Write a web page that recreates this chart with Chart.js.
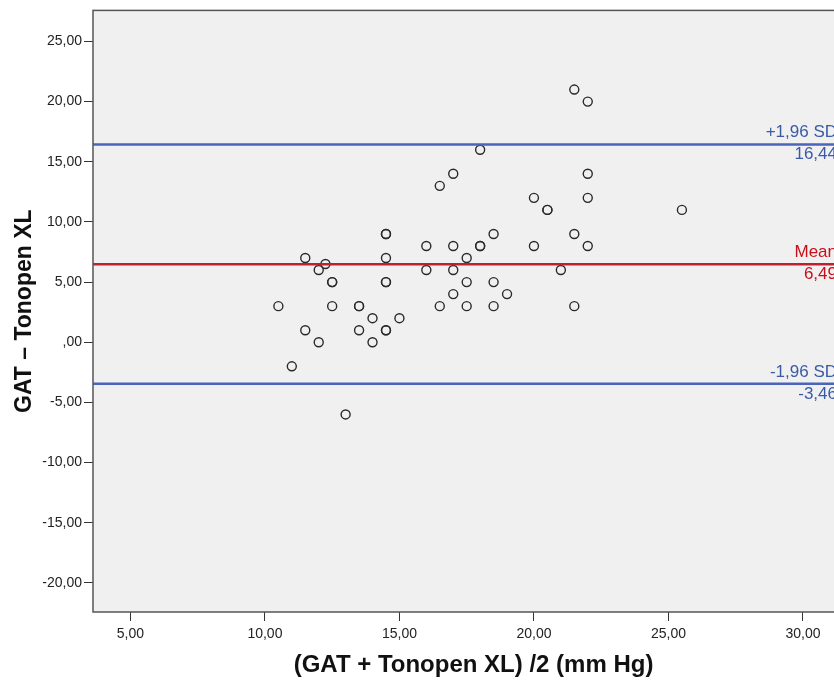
<!DOCTYPE html>
<html lang="en">
<head>
    <meta charset="UTF-8">
    <title>Bland-Altman GAT vs Tonopen XL</title>
    <script src="https://cdn.jsdelivr.net/npm/chart.js@4.4.1/dist/chart.umd.min.js"></script>
    <style>
        html, body {
            margin: 0;
            padding: 0;
            background: #fff;
            overflow: hidden;
            width: 834px;
            height: 684px;
        }
        canvas { display: block; }
    </style>
</head>
<body>
    <canvas id="myChart" width="860" height="684"></canvas>
    <script>
        // mean of the two methods (x) and difference GAT - Tonopen (y)
        const meanValues = [21.5, 22, 18, 16.5, 17, 22, 20, 22, 20.5, 20.5, 25.5, 14.5, 14.5, 18.5, 21.5,
            16, 17, 18, 18, 20, 22, 11.5, 14.5, 17.5, 12.25, 12, 16, 17, 21, 12.5, 12.5, 14.5, 14.5,
            17.5, 18.5, 17, 19, 10.5, 12.5, 13.5, 13.5, 16.5, 17.5, 18.5, 21.5, 14, 15, 11.5, 13.5,
            14.5, 14.5, 12, 14, 11, 13];
        const diffValues = [21, 20, 16, 13, 14, 14, 12, 12, 11, 11, 11, 9, 9, 9, 9,
            8, 8, 8, 8, 8, 8, 7, 7, 7, 6.5, 6, 6, 6, 6, 5, 5, 5, 5,
            5, 5, 4, 4, 3, 3, 3, 3, 3, 3, 3, 3, 2, 2, 1, 1,
            1, 1, 0, 0, -2, -6];

        const meanDiff = 6.49;
        const upperLoA = 16.44;
        const lowerLoA = -3.46;

        const xTicks = [5, 10, 15, 20, 25, 30];
        const yTicks = [-20, -15, -10, -5, 0, 5, 10, 15, 20, 25];
        const xRange = [3.61, 31.9];
        const yRange = [-22.42, 27.58];

        function fmt(v) {
            var s = v.toFixed(2).replace('.', ',');
            if (s === '0,00') s = ',00';
            return s;
        }

        const points = meanValues.map(function (x, i) { return { x: x, y: diffValues[i] }; });

        function hLine(y) {
            return [{ x: xRange[0], y: y }, { x: xRange[1], y: y }];
        }

        const blue = '#4a64b9';
        const red = '#bf2030';

        // plot background, frame and the labels of the reference lines
        const plotDeco = {
            id: 'plotDeco',
            beforeDraw(chart) {
                const { ctx, chartArea: a } = chart;
                ctx.save();
                ctx.fillStyle = '#f0f0f0';
                ctx.fillRect(a.left, a.top, a.right - a.left, a.bottom - a.top);
                ctx.restore();
            },
            afterDatasetsDraw(chart) {
                const { ctx, chartArea: a, scales } = chart;
                ctx.save();
                ctx.strokeStyle = '#555';
                ctx.lineWidth = 1.5;
                ctx.strokeRect(a.left, a.top, a.right - a.left, a.bottom - a.top);

                const labels = [
                    { v: upperLoA, top: '+1,96 SD', color: '#3a5aa6' },
                    { v: meanDiff, top: 'Mean', color: '#c8101c' },
                    { v: lowerLoA, top: '-1,96 SD', color: '#3a5aa6' }
                ];
                ctx.font = '17px "Liberation Sans", Arial, sans-serif';
                ctx.textAlign = 'right';
                ctx.textBaseline = 'alphabetic';
                labels.forEach(function (l) {
                    const y = scales.y.getPixelForValue(l.v);
                    ctx.fillStyle = l.color;
                    ctx.fillText(l.top, 837, y - 7);
                    ctx.fillText(fmt(l.v), 837, y + 15);
                });
                ctx.restore();
            }
        };

        const ctx = document.getElementById('myChart').getContext('2d');

        const myChart = new Chart(ctx, {
            type: 'scatter',
            data: {
                datasets: [
                    {
                        type: 'line',
                        data: hLine(upperLoA),
                        borderColor: blue,
                        borderWidth: 2.5,
                        pointRadius: 0
                    },
                    {
                        type: 'line',
                        data: hLine(meanDiff),
                        borderColor: red,
                        borderWidth: 2.5,
                        pointRadius: 0
                    },
                    {
                        type: 'line',
                        data: hLine(lowerLoA),
                        borderColor: blue,
                        borderWidth: 2.5,
                        pointRadius: 0
                    },
                    {
                        data: points,
                        pointRadius: 4.5,
                        pointBorderWidth: 1.4,
                        borderColor: '#2a2a2a',
                        backgroundColor: 'rgba(0,0,0,0)'
                    }
                ]
            },
            options: {
                responsive: false,
                animation: false,
                devicePixelRatio: 1,
                layout: {
                    padding: { top: 10, right: 4, left: 0, bottom: 0 }
                },
                plugins: {
                    legend: { display: false },
                    tooltip: { enabled: false }
                },
                scales: {
                    x: {
                        type: 'linear',
                        min: xRange[0],
                        max: xRange[1],
                        afterBuildTicks: function (scale) {
                            scale.ticks = xTicks.map(function (v) { return { value: v }; });
                        },
                        afterFit: function (scale) { scale.height = 72; },
                        border: { display: false },
                        grid: {
                            drawOnChartArea: false,
                            drawTicks: true,
                            tickLength: 9,
                            color: '#333'
                        },
                        ticks: {
                            autoSkip: false,
                            maxRotation: 0,
                            padding: 5,
                            color: '#222',
                            font: { family: '"Liberation Sans", Arial, sans-serif', size: 14 },
                            callback: function (v) { return fmt(v); }
                        },
                        title: {
                            display: true,
                            text: '(GAT + Tonopen XL) /2 (mm Hg)',
                            color: '#111',
                            padding: { top: 0, bottom: 4 },
                            font: { family: '"Liberation Sans", Arial, sans-serif', size: 24, weight: 'bold' }
                        }
                    },
                    y: {
                        type: 'linear',
                        min: yRange[0],
                        max: yRange[1],
                        afterBuildTicks: function (scale) {
                            scale.ticks = yTicks.map(function (v) { return { value: v }; });
                        },
                        afterFit: function (scale) { scale.width = 93; },
                        border: { display: false },
                        grid: {
                            drawOnChartArea: false,
                            drawTicks: true,
                            tickLength: 9,
                            color: '#333'
                        },
                        ticks: {
                            autoSkip: false,
                            padding: 2,
                            color: '#222',
                            font: { family: '"Liberation Sans", Arial, sans-serif', size: 14 },
                            callback: function (v) { return fmt(v); }
                        },
                        title: {
                            display: true,
                            text: 'GAT – Tonopen XL',
                            color: '#111',
                            padding: { top: 11, bottom: 0 },
                            font: { family: '"Liberation Sans", Arial, sans-serif', size: 23, weight: 'bold' }
                        }
                    }
                }
            },
            plugins: [plotDeco]
        });
    </script>
</body>
</html>
